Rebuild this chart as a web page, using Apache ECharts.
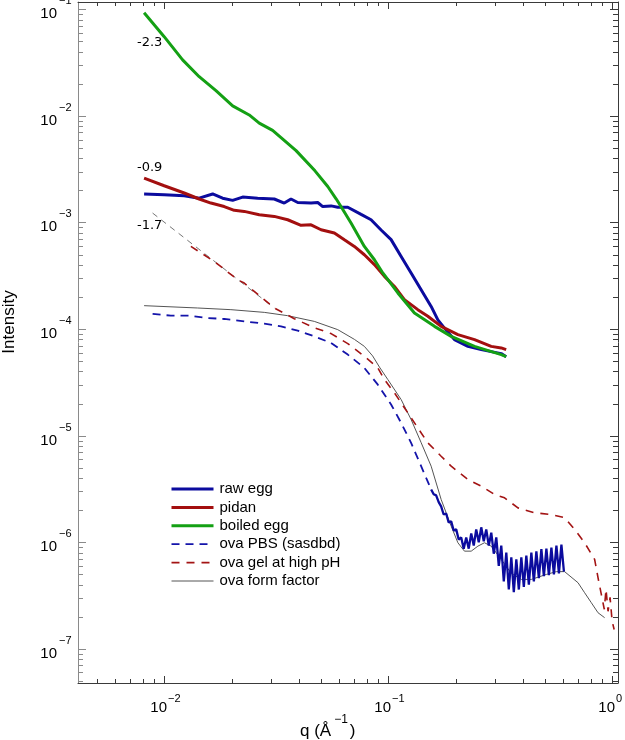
<!DOCTYPE html>
<html><head><meta charset="utf-8">
<script src="https://cdn.jsdelivr.net/npm/echarts@6/dist/echarts.min.js"></script>
<style>html,body{margin:0;padding:0;background:#fff}#c{width:625px;height:740px}</style>
</head><body><div id="c"></div>
<script>
// ---------------- data (q in 1/Å, intensity) ----------------
const rawEggQ = [0.00811,0.00997,0.01225,0.01429,0.01641,0.01818,0.02016,0.02234,0.02608,0.03093,0.03428,0.03673,0.03936,0.04513,0.04836,0.05091,0.05546,0.0594,0.06586,0.07551,0.08367,0.09277,0.1028,0.114,0.1263,0.14,0.1552,0.1663,0.178,0.1972,0.2265,0.2597,0.319,0.3357];
const rawEggI = [1.85e-3,1.82e-3,1.78e-3,1.69e-3,1.85e-3,1.69e-3,1.61e-3,1.73e-3,1.69e-3,1.66e-3,1.52e-3,1.66e-3,1.54e-3,1.52e-3,1.54e-3,1.41e-3,1.43e-3,1.39e-3,1.39e-3,1.19e-3,1.06e-3,8.5e-4,6.9e-4,4.8e-4,3.36e-4,2.34e-4,1.63e-4,1.22e-4,1.02e-4,7.96e-5,6.88e-5,6.41e-5,5.88e-5,5.5e-5];

const pidanQ = [0.00811,0.00997,0.01225,0.01429,0.01612,0.01848,0.02049,0.02271,0.0265,0.03093,0.0355,0.04072,0.04513,0.05003,0.05737,0.06358,0.07047,0.0781,0.0866,0.096,0.1064,0.1179,0.1353,0.15,0.172,0.2043,0.2424,0.2878,0.319,0.3357];
const pidanI = [2.61e-3,2.21e-3,1.89e-3,1.66e-3,1.52e-3,1.41e-3,1.30e-3,1.27e-3,1.18e-3,1.14e-3,1.06e-3,9.4e-4,9.5e-4,8.54e-4,7.96e-4,6.88e-4,5.96e-4,4.98e-4,4.02e-4,3.12e-4,2.51e-4,1.89e-4,1.52e-4,1.32e-4,1.06e-4,8.86e-5,7.96e-5,6.88e-5,6.65e-5,6.41e-5];

const boiledQ = [0.00811,0.00997,0.01205,0.01429,0.01698,0.02016,0.0239,0.0265,0.0304,0.0387,0.047,0.0536,0.0584,0.0614,0.0681,0.0781,0.0866,0.0944,0.1102,0.1307,0.1606,0.1907,0.2424,0.319,0.3357];
const boiledI = [0.0929,0.0553,0.0335,0.0233,0.01726,0.01242,0.0102,0.00855,0.00731,0.00472,0.00305,0.002175,0.001667,0.001413,0.000987,0.000596,0.000447,0.000336,0.000218,0.0001416,0.000106,8.54e-5,6.88e-5,5.75e-5,5.51e-5];

const ovaPbsQ = [0.00885,0.01068,0.0129,0.01559,0.01848,0.02271,0.0279,0.03315,0.03936,0.04667,0.05546,0.06586,0.0781,0.0897,0.1028,0.114,0.1263,0.14,0.1552];
const ovaPbsI = [1.385e-4,1.335e-4,1.335e-4,1.27e-4,1.243e-4,1.18e-4,1.123e-4,1.06e-4,9.66e-5,8.54e-5,7.41e-5,5.76e-5,4.32e-5,3.01e-5,1.96e-5,1.318e-5,8.56e-6,5.17e-6,3.13e-6];

// dense, noisy high-q part of the ova PBS curve (read as alternating upper/lower edges of the band)
const ovaPbsNoisyQ = [0.1552,0.1593,0.1634,0.1677,0.1720,0.1765,0.1811,0.1858,0.1907,0.1957,0.2008,0.2060,0.2114,0.2169,0.2226,0.2284,0.2344,0.2405,0.2467,0.2532,0.2598,0.2666,0.2735,0.2807,0.2880,0.2955,0.3032,0.3111,0.3192,0.3276,0.3361,0.3449,0.3539,0.3631,0.3726,0.3823,0.3923,0.4025,0.4130,0.4238,0.4349,0.4462,0.4579,0.4698,0.4821,0.4947,0.5076,0.5208,0.5344,0.5484,0.5627,0.5774,0.5924,0.6079];
const ovaPbsNoisyI = [3.13e-6,2.82e-6,2.75e-6,2.38e-6,2.17e-6,1.82e-6,1.86e-6,1.53e-6,1.57e-6,1.29e-6,1.32e-6,1.06e-6,1.11e-6,8.7e-7,1.11e-6,8.7e-7,1.21e-6,9.3e-7,1.32e-6,1.0e-6,1.38e-6,1.02e-6,1.32e-6,9.3e-7,1.23e-6,7.8e-7,1.11e-6,6.0e-7,9.3e-7,4.3e-7,8.0e-7,3.6e-7,7.2e-7,3.4e-7,6.9e-7,3.6e-7,7.2e-7,3.8e-7,7.5e-7,4.0e-7,8.0e-7,4.3e-7,8.2e-7,4.6e-7,8.6e-7,4.8e-7,8.7e-7,4.9e-7,8.9e-7,5.0e-7,9.3e-7,5.1e-7,9.5e-7,5.3e-7];

const ovaGelQ = [0.01312,0.01668,0.02122,0.02271,0.03093,0.038,0.04667,0.05546,0.06586,0.0781,0.0897,0.096,0.1064,0.1221,0.15,0.172,0.1907,0.2265,0.2597,0.2978,0.3301,0.3789,0.4496,0.5337,0.612,0.6785,0.752,0.8336,0.866,0.893,0.9205,0.937,0.957,0.977,0.998,1.019];
const ovaGelI = [5.96e-4,4.31e-4,2.9e-4,2.7e-4,1.576e-4,1.251e-4,1.03e-4,9.06e-5,7.3e-5,5.55e-5,4.32e-5,3.36e-5,2.52e-5,1.636e-5,8.56e-6,6.41e-6,5.17e-6,3.88e-6,3.36e-6,2.81e-6,2.61e-6,2.1e-6,1.89e-6,1.82e-6,1.7e-6,1.318e-6,9.89e-7,6.9e-7,4.48e-7,3.24e-7,2.35e-7,3.61e-7,2.25e-7,3.04e-7,1.81e-7,1.52e-7];

// thin power-law guide (slope -1.7) drawn under the gel curve at low q
const guideQ = [0.00885, 0.03093];
const guideI = [1.225e-3, 1.576e-4];

const formFactorQ = [0.00811,0.01406,0.0198,0.0279,0.0355,0.04667,0.0594,0.0705,0.0781,0.0850,0.0912,0.0994,0.114,0.1263,0.14,0.1552,0.172,0.1907,0.2043,0.2186,0.2343,0.251,0.2686,0.2878,0.319,0.3539,0.3923,0.4349,0.5076,0.5627,0.612,0.7027,0.752,0.8056,0.8633,0.9238];
const formFactorI = [1.657e-4,1.576e-4,1.52e-4,1.434e-4,1.335e-4,1.18e-4,9.87e-5,8.0e-5,6.88e-5,5.6e-5,4.4e-5,3.36e-5,2.18e-5,1.416e-5,8.6e-6,5.17e-6,2.52e-6,1.416e-6,9.89e-7,8.25e-7,8.25e-7,9.19e-7,9.89e-7,9.19e-7,6.9e-7,5.1e-7,4.48e-7,4.48e-7,4.99e-7,5.3e-7,5.3e-7,4.17e-7,3.36e-7,2.71e-7,2.18e-7,1.96e-7];

const seriesNames = ['raw egg','pidan','boiled egg','ova PBS (sasdbd)','ova gel at high pH','ova form factor'];

const xMajorTicks = [0.01, 0.1, 1];
const xMajorExp = ['−2','−1','0'];
const yMajorTicks = [1e-7,1e-6,1e-5,1e-4,1e-3,1e-2,1e-1];
const yMajorExp = ['−7','−6','−5','−4','−3','−2','−1'];
const slopeLabels = ['-2.3','-0.9','-1.7'];

const xTitle = 'q (Å';
const xTitleSup = '−1';
const xTitleEnd = ')';
const yTitle = 'Intensity';

// ---------------- chart ----------------
const FONT = '"Liberation Sans", Arial, Helvetica, sans-serif';
const X_MIN = 0.00411, X_MAX = 1.06, Y_MIN = 4.78e-8, Y_MAX = 0.117;
const G = {left: 78, right: 7, top: 2, bottom: 57};
const W = 625, H = 740;
const DARK = '#3a3a3a', LIGHT = '#8a8a8a';

const C_RAW = '#0b0b9e', C_PIDAN = '#a30f0f', C_BOILED = '#14a014';
const C_PBS = '#1414aa', C_GEL = '#a31414', C_FF = '#555555';

function pairs(q, v) { return q.map((x, i) => [x, v[i]]); }

const chart = echarts.init(document.getElementById('c'), null, {renderer: 'canvas'});

function axisCommon(extra) {
  return Object.assign({
    type: 'log', logBase: 10,
    axisTick: {show: false}, axisLabel: {show: false}, splitLine: {show: false}
  }, extra);
}

const option = {
  animation: false,
  backgroundColor: '#fff',
  grid: {left: G.left, right: G.right, top: G.top, bottom: G.bottom, containLabel: false},
  xAxis: [
    axisCommon({min: X_MIN, max: X_MAX, position: 'bottom', axisLine: {show: true, lineStyle: {color: DARK, width: 1}}}),
    axisCommon({min: X_MIN, max: X_MAX, position: 'top', axisLine: {show: true, lineStyle: {color: DARK, width: 1}}})
  ],
  yAxis: [
    axisCommon({min: Y_MIN, max: Y_MAX, position: 'left', axisLine: {show: true, lineStyle: {color: LIGHT, width: 1}}}),
    axisCommon({min: Y_MIN, max: Y_MAX, position: 'right', axisLine: {show: true, lineStyle: {color: DARK, width: 1}}})
  ],
  legend: {
    orient: 'vertical', left: 170, top: 481.5, padding: 0,
    itemWidth: 42, itemHeight: 14, itemGap: 3.4,
    itemStyle: {opacity: 0, borderWidth: 0},
    data: [
      {name: seriesNames[0], lineStyle: {width: 3}},
      {name: seriesNames[1], lineStyle: {width: 3}},
      {name: seriesNames[2], lineStyle: {width: 3}},
      {name: seriesNames[3], lineStyle: {width: 1.8}},
      {name: seriesNames[4], lineStyle: {width: 1.6}},
      {name: seriesNames[5], lineStyle: {width: 1}}
    ],
    textStyle: {fontFamily: FONT, fontSize: 15, color: '#000', padding: [0, 0, 0, 1]},
    selectedMode: false
  },
  series: [
    {name: 'slope guide', type: 'line', symbol: 'none', data: pairs(guideQ, guideI),
     lineStyle: {color: '#666', width: 0.9, type: [6, 5]}, z: 2},
    {name: seriesNames[5], type: 'line', symbol: 'none', data: pairs(formFactorQ, formFactorI),
     lineStyle: {color: C_FF, width: 1}, itemStyle: {color: C_FF}, z: 2},
    {name: 'ova PBS noisy part', type: 'line', symbol: 'none', data: pairs(ovaPbsNoisyQ, ovaPbsNoisyI),
     lineStyle: {color: C_RAW, width: 2.3}, itemStyle: {color: C_RAW}, z: 3},
    {name: seriesNames[3], type: 'line', symbol: 'none', data: pairs(ovaPbsQ, ovaPbsI),
     lineStyle: {color: C_PBS, width: 1.8, type: [8, 6]}, itemStyle: {color: C_PBS}, z: 3},
    {name: seriesNames[4], type: 'line', symbol: 'none', data: pairs(ovaGelQ, ovaGelI),
     lineStyle: {color: C_GEL, width: 1.6, type: [8, 7]}, itemStyle: {color: C_GEL}, z: 3},
    {name: seriesNames[0], type: 'line', symbol: 'none', data: pairs(rawEggQ, rawEggI),
     lineStyle: {color: C_RAW, width: 3}, itemStyle: {color: C_RAW}, z: 4},
    {name: seriesNames[1], type: 'line', symbol: 'none', data: pairs(pidanQ, pidanI),
     lineStyle: {color: C_PIDAN, width: 3}, itemStyle: {color: C_PIDAN}, z: 5},
    {name: seriesNames[2], type: 'line', symbol: 'none', data: pairs(boiledQ, boiledI),
     lineStyle: {color: C_BOILED, width: 3}, itemStyle: {color: C_BOILED}, z: 6}
  ]
};
chart.setOption(option);

// ---------------- ticks, tick labels, titles (positions from the library's scales) ----------------
const gL = G.left, gR = W - G.right, gT = G.top, gB = H - G.bottom;
const els = [];
function px(v) { return Math.round(chart.convertToPixel({xAxisIndex: 0}, v)) + 0.5; }
function py(v) { return Math.round(chart.convertToPixel({yAxisIndex: 0}, v)) + 0.5; }
function line(x1, y1, x2, y2, c) {
  els.push({type: 'line', silent: true, z: 10, shape: {x1, y1, x2, y2}, style: {stroke: c, lineWidth: 1}});
}
function text(t, x, y, size, align, vAlign, extra) {
  els.push(Object.assign({type: 'text', silent: true, z: 10, x, y,
    style: {text: t, fill: '#000', font: size + 'px ' + FONT, textAlign: align, textVerticalAlign: vAlign}}, extra || {}));
}
const measureCtx = document.createElement('canvas').getContext('2d');
function textWidth(t, size) { measureCtx.font = size + 'px ' + FONT; return measureCtx.measureText(t).width; }

// minor tick values
const xMinor = [], yMinor = [];
for (let k = -3; k <= 0; k++) for (let m = 2; m <= 9; m++) { const v = m * Math.pow(10, k); if (v > X_MIN && v < X_MAX) xMinor.push(v); }
for (let k = -8; k <= -1; k++) for (let m = 2; m <= 9; m++) { const v = m * Math.pow(10, k); if (v > Y_MIN && v < Y_MAX) yMinor.push(v); }

xMajorTicks.forEach((v, i) => {
  const x = px(v);
  line(x, gB, x, gB - 7, DARK); line(x, gT, x, gT + 7, DARK);
  text('10', x + 2.5, 708, 15, 'right', 'middle');
  text(xMajorExp[i], x + 3.5, 699, 11, 'left', 'middle');
});
xMinor.forEach(v => { const x = px(v); line(x, gB, x, gB - 4, DARK); line(x, gT, x, gT + 4, DARK); });

yMajorTicks.forEach((v, i) => {
  const y = py(v);
  line(gL, y, gL + 8, y, LIGHT); line(gR, y, gR - 8, y, DARK);
  text('10', 57, y + 4, 15, 'right', 'middle');
  text(yMajorExp[i], 59, y - 9, 11, 'left', 'middle');
});
yMinor.forEach(v => { const y = py(v); line(gL, y, gL + 5, y, LIGHT); line(gR, y, gR - 5, y, DARK); });

// axis titles
const xt0 = 300, xtSize = 17, xtSupSize = 12;
const w1 = textWidth(xTitle, xtSize);
const w2 = textWidth(xTitleSup, xtSupSize);
text(xTitle, xt0, 731, xtSize, 'left', 'middle');
text(xTitleSup, xt0 + w1 + 3, 720, xtSupSize, 'left', 'middle');
text(xTitleEnd, xt0 + w1 + 3 + w2 + 2, 731, xtSize, 'left', 'middle');
text(yTitle, 9, 322, 17, 'center', 'middle', {rotation: Math.PI / 2});

// slope annotations
const slopeFont = '13px "DejaVu Sans", sans-serif';
[[137, 43], [137, 168], [137, 226]].forEach((p, i) => {
  els.push({type: 'text', silent: true, z: 10, x: p[0], y: p[1],
    style: {text: slopeLabels[i], fill: '#000', font: slopeFont, textAlign: 'left', textVerticalAlign: 'middle'}});
});

chart.setOption({graphic: {elements: els}});
</script>
</body></html>
